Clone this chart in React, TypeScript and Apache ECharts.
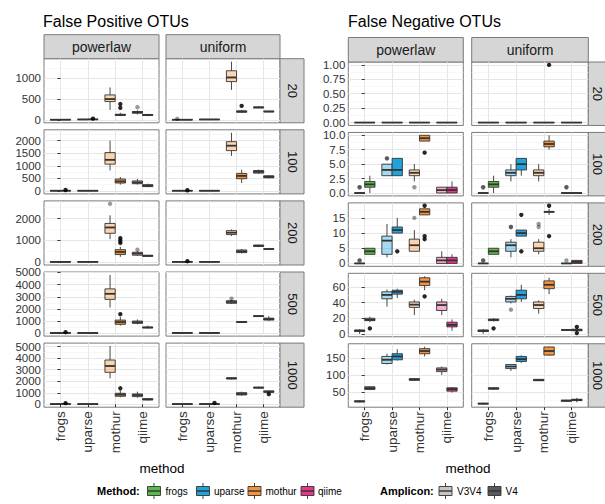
import React, { useEffect, useRef } from "react";
import * as echarts from "echarts";

const methods = ["frogs", "uparse", "mothur", "qiime"];
const distributions = ["powerlaw", "uniform"];
const depths = ["20", "100", "200", "500", "1000"];
const amplicons = ["V3V4", "V4"];
const methodColors = ["#5DB947", "#1FA3DE", "#F6933B", "#E8348C"];
const ampliconKeyFills = ["#C6C6C6", "#5A5A5A"];

// Each row (depth) holds 8 boxes: frogs V3V4, frogs V4, uparse V3V4, uparse V4, mothur V3V4, mothur V4, qiime V3V4, qiime V4
// Each box: [min, q1, median, q3, max]
const fpPowerlawBoxes = [
  [[0, 2, 4, 6, 10], [0, 3, 5, 8, 12], [5, 8, 10, 12, 15], [6, 9, 12, 14, 18], [240, 440, 500, 600, 780], [90, 110, 120, 135, 170], [130, 160, 185, 200, 230], [90, 105, 120, 130, 140]],
  [[0, 5, 10, 15, 25], [0, 5, 10, 20, 30], [0, 5, 10, 15, 20], [0, 5, 10, 15, 20], [816, 1066, 1237, 1527, 2000], [250, 316, 380, 474, 553], [260, 290, 340, 400, 480], [150, 175, 210, 250, 290]],
  [[0, 5, 10, 15, 25], [0, 5, 10, 15, 25], [0, 5, 10, 15, 20], [0, 5, 10, 15, 30], [1053, 1323, 1590, 1775, 2150], [240, 346, 466, 571, 700], [280, 316, 390, 451, 500], [240, 265, 290, 310, 330]],
  [[0, 10, 20, 30, 40], [0, 10, 20, 30, 45], [0, 10, 15, 20, 30], [0, 10, 15, 20, 30], [2108, 2784, 3243, 3649, 4800], [622, 730, 919, 1081, 1351], [730, 811, 900, 1000, 1135], [400, 440, 470, 500, 620]],
  [[0, 10, 20, 30, 40], [0, 15, 25, 35, 50], [0, 10, 20, 30, 40], [0, 10, 20, 30, 40], [2254, 2774, 3324, 3844, 5058], [600, 694, 838, 954, 1200], [578, 665, 800, 896, 1098], [330, 380, 433, 480, 520]],
];
const fpUniformBoxes = [
  [[0, 2, 4, 6, 10], [0, 2, 4, 6, 10], [5, 8, 10, 12, 15], [5, 8, 10, 12, 15], [720, 920, 1020, 1180, 1400], [170, 185, 200, 215, 240], [280, 290, 300, 310, 320], [185, 195, 200, 210, 215]],
  [[0, 5, 10, 15, 20], [0, 5, 10, 15, 20], [0, 5, 10, 15, 20], [0, 5, 10, 15, 20], [1395, 1605, 1800, 1960, 2316], [316, 487, 600, 697, 842], [680, 710, 760, 816, 850], [500, 526, 560, 605, 630]],
  [[0, 5, 10, 15, 20], [0, 5, 10, 15, 20], [0, 5, 10, 15, 20], [0, 5, 10, 15, 20], [1200, 1263, 1350, 1444, 1500], [400, 436, 490, 556, 600], [690, 720, 750, 780, 800], [560, 580, 600, 615, 640]],
  [[0, 10, 20, 30, 40], [0, 10, 20, 30, 40], [0, 10, 20, 30, 40], [0, 10, 20, 30, 40], [2400, 2460, 2570, 2676, 2750], [850, 880, 920, 960, 990], [1330, 1370, 1405, 1440, 1480], [1000, 1080, 1160, 1240, 1400]],
  [[0, 10, 20, 30, 40], [0, 10, 20, 30, 40], [0, 10, 20, 30, 40], [0, 10, 20, 30, 40], [2150, 2200, 2254, 2300, 2350], [750, 809, 896, 1011, 1100], [1380, 1410, 1445, 1480, 1520], [1000, 1040, 1100, 1156, 1200]],
];
const fnPowerlawBoxes = [
  [[0, 0, 0, 0, 0], [0, 0, 0, 0, 0], [0, 0, 0, 0, 0], [0, 0, 0, 0, 0], [0, 0, 0, 0, 0], [0, 0, 0, 0, 0], [0, 0, 0, 0, 0], [0, 0, 0, 0, 0]],
  [[0, 0, 0, 0, 0], [0, 1, 1.5, 2, 3], [3, 3, 4, 5, 5], [3, 3, 4, 6, 6], [2, 3, 3.5, 4, 5], [9, 9, 9.5, 10, 10], [0, 0, 0.5, 1, 1], [0, 0, 0.5, 1, 2]],
  [[0, 0, 0, 0, 0], [3, 3, 4, 5, 5], [2, 3, 7.5, 9, 13], [10, 10, 11, 12, 15], [4, 4, 6, 8, 11], [16, 16, 17, 18, 18], [0, 0, 1, 2, 4], [0, 0, 1, 2, 3]],
  [[0, 3, 4, 5, 6], [15, 17, 18, 20, 22], [35, 45, 50, 54, 57], [46, 51, 54, 56, 58], [24, 34, 37.5, 41, 44], [56, 62, 67, 72, 74], [24, 30, 37, 41, 45], [4, 9, 11.5, 15, 18.5]],
  [[19, 20, 22, 23, 25], [55, 57, 61, 65, 67], [131, 134, 145, 155, 163], [143, 145, 155, 163, 176], [82, 84, 87, 89, 91], [155, 163, 171, 178, 184], [100, 110, 116, 121, 125], [48, 52, 58, 62, 64]],
];
const fnUniformBoxes = [
  [[0, 0, 0, 0, 0], [0, 0, 0, 0, 0], [0, 0, 0, 0, 0], [0, 0, 0, 0, 0], [0, 0, 0, 0, 0], [0, 0, 0, 0, 0], [0, 0, 0, 0, 0], [0, 0, 0, 0, 0]],
  [[0, 0, 0, 0, 0], [0, 1, 1.5, 2, 3], [2, 3, 3.5, 4, 5], [3, 4, 5, 6, 6], [2, 3, 3.5, 4, 5], [7.5, 8, 8.5, 9, 10], [0, 0, 0, 0, 0], [0, 0, 0, 0, 0]],
  [[0, 0, 0, 0, 0], [3, 3, 4, 5, 5], [2, 4, 6, 7, 8], [9, 9, 10, 11, 11], [3, 4, 5, 7, 8], [16, 17, 17, 17, 18], [0, 0, 0, 0, 0], [0, 0, 0.5, 1, 1]],
  [[0, 3, 4, 5, 6], [16, 17, 18, 19, 20], [39, 41, 45, 48, 49], [41, 45, 50, 56, 63], [26, 32.5, 37, 41, 43], [51, 58, 63, 68, 72], [4, 5, 5, 5, 6], [3, 4, 5, 6, 7]],
  [[13, 14, 15, 16, 18], [56, 58, 60, 62, 64], [112, 119, 125, 131, 132], [136, 140, 147, 155, 158], [82, 83, 85, 87, 88], [157, 159, 171, 183, 184], [20, 22, 24, 25, 26], [19, 24, 26, 28, 32]],
];

// Outliers: [row (depth index), method index, amplicon index, value]
const fpPowerlawOutliers = [
  [0, 1, 1, 30], [0, 2, 1, 290], [0, 2, 1, 380], [0, 3, 0, 305],
  [1, 0, 1, 40],
  [2, 2, 0, 2677], [2, 2, 1, 880], [2, 2, 1, 980], [2, 2, 1, 1100], [2, 3, 0, 571],
  [3, 0, 1, 80], [3, 2, 1, 1568],
  [4, 0, 1, 100], [4, 2, 1, 1387],
];
const fpUniformOutliers = [
  [0, 0, 0, 25], [0, 2, 1, 336],
  [1, 0, 1, 30],
  [2, 0, 1, 40],
  [3, 2, 0, 2838],
  [4, 1, 1, 120], [4, 3, 1, 880],
];
const fnPowerlawOutliers = [
  [1, 0, 0, 1], [1, 0, 0, 1], [1, 1, 0, 6], [1, 1, 0, 6], [1, 2, 0, 1], [1, 2, 1, 7],
  [2, 0, 0, 1], [2, 0, 0, 1], [2, 1, 1, 4], [2, 2, 0, 15], [2, 2, 1, 19], [2, 2, 1, 8], [2, 2, 1, 9],
  [3, 0, 1, 7], [3, 2, 1, 48],
];
const fnUniformOutliers = [
  [0, 2, 1, 1],
  [1, 0, 0, 1], [1, 0, 0, 1], [1, 3, 0, 1], [1, 3, 0, 1],
  [2, 0, 0, 1], [2, 0, 0, 1], [2, 1, 0, 12], [2, 1, 0, 12], [2, 1, 1, 16], [2, 1, 1, 4],
  [2, 2, 0, 12], [2, 2, 0, 13], [2, 2, 1, 19], [2, 2, 1, 9], [2, 3, 0, 1],
  [3, 0, 1, 7], [3, 1, 0, 31], [3, 3, 1, 9], [3, 3, 1, 1],
];

const fpTickSteps = [500, 500, 1000, 1000, 1000];
const fnTickSteps = [0.25, 2.5, 5, 20, 50];
const fpDecimals = [0, 0, 0, 0, 0];
const fnDecimals = [2, 1, 0, 0, 0];

const FONT = "'Liberation Sans', Arial, Helvetica, sans-serif";
const AXIS_TEXT = "#333333";
const BORDER = "#7a7a7a";
const STRIP_FILL = "#d6d6d6";

function rgba(hex: string, a: number) {
  const n = parseInt(hex.slice(1), 16);
  return `rgba(${(n >> 16) & 255},${(n >> 8) & 255},${n & 255},${a})`;
}

function renderBox(params: any, api: any) {
  const m = api.value(0);
  const a = api.value(1);
  const xc = m + (a === 0 ? -0.1875 : 0.1875);
  const w = api.size([0.375, 0])[0];
  const pMin = api.coord([xc, api.value(2)]);
  const pQ1 = api.coord([xc, api.value(3)]);
  const pMed = api.coord([xc, api.value(4)]);
  const pQ3 = api.coord([xc, api.value(5)]);
  const pMax = api.coord([xc, api.value(6)]);
  const x = pMed[0];
  const color = methodColors[m];
  const fill = a === 0 ? rgba(color, 0.4) : color;
  const stroke = "#333333";
  return {
    type: "group",
    children: [
      { type: "line", shape: { x1: x, y1: pQ3[1], x2: x, y2: pMax[1] }, style: { stroke, lineWidth: 0.9 } },
      { type: "line", shape: { x1: x, y1: pQ1[1], x2: x, y2: pMin[1] }, style: { stroke, lineWidth: 0.9 } },
      { type: "rect", shape: { x: x - w / 2, y: pQ3[1], width: w, height: Math.max(pQ1[1] - pQ3[1], 0) }, style: { fill, stroke, lineWidth: 0.9 } },
      { type: "line", shape: { x1: x - w / 2, y1: pMed[1], x2: x + w / 2, y2: pMed[1] }, style: { stroke, lineWidth: 1.8 } },
    ],
  };
}

function renderOutlier(params: any, api: any) {
  const m = api.value(0);
  const a = api.value(1);
  const xc = m + (a === 0 ? -0.1875 : 0.1875);
  const p = api.coord([xc, api.value(2)]);
  return {
    type: "circle",
    shape: { cx: p[0], cy: p[1], r: 2.2 },
    style: { fill: a === 0 ? "rgba(0,0,0,0.4)" : "rgba(0,0,0,0.85)" },
  };
}

function legendKey(x: number, fill: string) {
  const cx = x + 7.5;
  return [
    { type: "line", shape: { x1: cx, y1: 483, x2: cx, y2: 499 }, style: { stroke: "#333", lineWidth: 0.9 } },
    { type: "rect", shape: { x: x + 1, y: 486.5, width: 13, height: 9 }, style: { fill, stroke: "#333", lineWidth: 0.9 } },
    { type: "line", shape: { x1: x + 1, y1: 491, x2: x + 14, y2: 491 }, style: { stroke: "#333", lineWidth: 1.4 } },
  ];
}

function buildOption() {
  const panels = [
    {
      title: "False Positive OTUs", titleX: 43,
      boxes: [fpPowerlawBoxes, fpUniformBoxes], outliers: [fpPowerlawOutliers, fpUniformOutliers],
      steps: fpTickSteps, decimals: fpDecimals,
      cols: [[44, 115], [166, 114]], top: 58.7, rowH: 64.1, gap: 7, stripH: 24, methodX: 162, stripTextOff: 12,
    },
    {
      title: "False Negative OTUs", titleX: 348,
      boxes: [fnPowerlawBoxes, fnUniformBoxes], outliers: [fnPowerlawOutliers, fnUniformOutliers],
      steps: fnTickSteps, decimals: fnDecimals,
      cols: [[348.3, 115], [471.7, 116.6]], top: 62, rowH: 63.44, gap: 7, stripH: 24.5, methodX: 468, stripTextOff: 9.5,
    },
  ];
  const grid: any[] = [];
  const xAxis: any[] = [];
  const yAxis: any[] = [];
  const series: any[] = [];
  const graphic: any[] = [];
  let gi = 0;

  panels.forEach((p) => {
    graphic.push({
      type: "text", x: p.titleX, y: 21,
      style: { text: p.title, fontSize: 16, fontFamily: FONT, fill: "#000", align: "left", verticalAlign: "middle" },
    });
    const rowExt = depths.map((_, r) => {
      let lo = Infinity;
      let hi = -Infinity;
      p.boxes.forEach((col) => col[r].forEach((b) => { lo = Math.min(lo, b[0]); hi = Math.max(hi, b[4]); }));
      p.outliers.forEach((list) => list.forEach((o) => { if (o[0] === r) { lo = Math.min(lo, o[3]); hi = Math.max(hi, o[3]); } }));
      const pad = (hi - lo) * 0.05;
      return [lo - pad, hi + pad];
    });

    p.cols.forEach(([cx, cw], c) => {
      graphic.push({ type: "rect", shape: { x: cx, y: p.top - p.stripH, width: cw, height: p.stripH }, style: { fill: STRIP_FILL, stroke: BORDER, lineWidth: 1 } });
      graphic.push({ type: "text", x: cx + cw / 2, y: p.top - p.stripH / 2, style: { text: distributions[c], fontSize: 14, fontFamily: FONT, fill: "#1a1a1a", align: "center", verticalAlign: "middle" } });
    });
    const stripX = p.cols[1][0] + p.cols[1][1];

    depths.forEach((d, r) => {
      const y = p.top + r * (p.rowH + p.gap);
      graphic.push({ type: "rect", shape: { x: stripX, y, width: 24, height: p.rowH }, style: { fill: STRIP_FILL, stroke: BORDER, lineWidth: 1 } });
      graphic.push({ type: "text", x: stripX + p.stripTextOff, y: y + p.rowH / 2, rotation: -Math.PI / 2, style: { text: d, fontSize: 13, fontFamily: FONT, fill: "#1a1a1a", align: "center", verticalAlign: "middle" } });

      p.cols.forEach(([cx, cw], c) => {
        grid.push({
          left: cx, top: y, width: cw, height: p.rowH,
          show: true, backgroundColor: "#ffffff", borderColor: BORDER, borderWidth: 1,
          containLabel: false, outerBoundsMode: "none",
        });
        xAxis.push({
          gridIndex: gi, type: "value", min: -0.6, max: 3.6, minInterval: 1, maxInterval: 1,
          axisLine: { show: false },
          axisTick: { show: r === 4, length: 3, lineStyle: { color: "#333" } },
          axisLabel: {
            show: r === 4, rotate: 90, fontSize: 13.5, fontFamily: FONT, color: AXIS_TEXT, margin: 4,
            showMinLabel: false, showMaxLabel: false,
            formatter: (v: number) => {
              const k = Math.round(v);
              return Math.abs(v - k) < 1e-6 && k >= 0 && k < methods.length ? methods[k] : "";
            },
          },
          splitLine: { show: true, showMinLine: false, showMaxLine: false, lineStyle: { color: "#e6e6e6", width: 1 } },
        });
        const dec = p.decimals[r];
        yAxis.push({
          gridIndex: gi, type: "value", min: rowExt[r][0], max: rowExt[r][1],
          minInterval: p.steps[r], maxInterval: p.steps[r],
          axisLine: { show: false },
          axisTick: { show: c === 0, length: 3, lineStyle: { color: "#333" } },
          axisLabel: {
            show: c === 0, fontSize: 11.5, fontFamily: FONT, color: AXIS_TEXT, margin: 3,
            showMinLabel: false, showMaxLabel: false,
            formatter: (v: number) => v.toFixed(dec),
          },
          splitLine: { show: true, showMinLine: false, showMaxLine: false, lineStyle: { color: "#e6e6e6", width: 1 } },
          minorTick: { show: false, splitNumber: 2 },
          minorSplitLine: { show: true, lineStyle: { color: "#f3f3f3", width: 0.6 } },
        });
        const boxData = p.boxes[c][r].map((b, i) => [Math.floor(i / 2), i % 2, b[0], b[1], b[2], b[3], b[4]]);
        series.push({
          type: "custom", name: `${distributions[c]}-${depths[r]}`, xAxisIndex: gi, yAxisIndex: gi,
          renderItem: renderBox, data: boxData, silent: true, z: 3,
        });
        const outData = p.outliers[c].filter((o) => o[0] === r).map((o) => [o[1], o[2], o[3]]);
        series.push({
          type: "custom", name: `${distributions[c]}-${depths[r]}-outliers`, xAxisIndex: gi, yAxisIndex: gi,
          renderItem: renderOutlier, data: outData, silent: true, z: 4,
        });
        gi++;
      });
    });

    graphic.push({ type: "text", x: p.methodX, y: 468, style: { text: "method", fontSize: 13.5, fontFamily: FONT, fill: "#000", align: "center", verticalAlign: "middle" } });
  });

  const legendY = 491;
  graphic.push({ type: "text", x: 97, y: legendY, style: { text: "Method:", fontSize: 11, fontWeight: "bold", fontFamily: FONT, fill: "#000", verticalAlign: "middle" } });
  const methodKeyX = [146.5, 195.5, 247, 300];
  const methodTextX = [165.5, 214, 265.5, 318];
  methods.forEach((m, i) => {
    legendKey(methodKeyX[i], methodColors[i]).forEach((e) => graphic.push(e));
    graphic.push({ type: "text", x: methodTextX[i], y: legendY, style: { text: m, fontSize: 10, fontFamily: FONT, fill: "#000", verticalAlign: "middle" } });
  });
  graphic.push({ type: "text", x: 380, y: legendY, style: { text: "Amplicon:", fontSize: 11, fontWeight: "bold", fontFamily: FONT, fill: "#000", verticalAlign: "middle" } });
  const ampKeyX = [438, 487];
  const ampTextX = [457, 505.5];
  amplicons.forEach((a, i) => {
    legendKey(ampKeyX[i], ampliconKeyFills[i]).forEach((e) => graphic.push(e));
    graphic.push({ type: "text", x: ampTextX[i], y: legendY, style: { text: a, fontSize: 10, fontFamily: FONT, fill: "#000", verticalAlign: "middle" } });
  });

  return { animation: false, backgroundColor: "#ffffff", grid, xAxis, yAxis, series, graphic };
}

export default function App() {
  const ref = useRef<HTMLDivElement>(null);
  useEffect(() => {
    if (!ref.current) return;
    const chart = echarts.init(ref.current, undefined, { renderer: "svg" });
    chart.setOption(buildOption() as any);
    return () => chart.dispose();
  }, []);
  return <div ref={ref} style={{ position: "absolute", left: 0, top: 0, width: 605, height: 504 }} />;
}
